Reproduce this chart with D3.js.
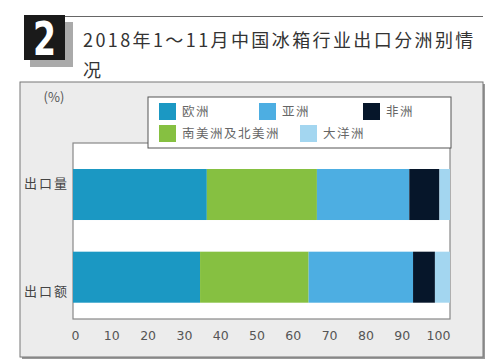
<!DOCTYPE html>
<html>
<head>
<meta charset="utf-8">
<script src="https://cdn.jsdelivr.net/npm/d3@7"></script>
<style>
	body { margin: 0; background: #fff; }
	svg { display: block; font-family: "Noto Sans CJK SC", "Noto Sans", sans-serif; }
</style>
</head>
<body>
<svg id="chart" width="500" height="362"></svg>
<script>
// data (share in %)
const categories = ["出口量", "出口额"];
const regions = ["欧洲", "南美洲及北美洲", "亚洲", "非洲", "大洋洲"];
const europe   = [35.5, 33.7];
const americas = [29.2, 28.8];
const asia     = [24.5, 27.7];
const africa   = [8.0, 5.8];
const oceania  = [2.8, 4.0];
const tickValues = [0, 10, 20, 30, 40, 50, 60, 70, 80, 90, 100];
const legendOrder = ["欧洲", "亚洲", "非洲", "南美洲及北美洲", "大洋洲"];

const colors = {
	"欧洲": "#1b98c3",
	"南美洲及北美洲": "#86c041",
	"亚洲": "#4daee2",
	"非洲": "#06162a",
	"大洋洲": "#a3d6f0"
};

let svg = d3.select("#chart");

// table for the stack
let series = [europe, americas, asia, africa, oceania];
let table = categories.map(function(c, i){
	let row = {cat: c};
	regions.forEach(function(r, j){ row[r] = series[j][i]; });
	return row;
});
let stacked = d3.stack().keys(regions)(table);

// title block
svg.append("line").attr("x1", 64).attr("x2", 483).attr("y1", 16.5).attr("y2", 16.5)
	.attr("stroke", "#666").attr("stroke-width", 1.2);
svg.append("rect").attr("x", 30).attr("y", 22).attr("width", 43).attr("height", 45).attr("fill", "#aaa");
svg.append("rect").attr("x", 24).attr("y", 15).attr("width", 41).attr("height", 45).attr("fill", "#1a1a1a");
svg.append("text").attr("x", 44.5).attr("y", 55).attr("text-anchor", "middle")
	.attr("fill", "#fff").attr("font-family", "DejaVu Sans Condensed, DejaVu Sans")
	.attr("font-weight", "bold").attr("font-size", 46)
	.attr("transform", "translate(44.5,55) scale(0.8,1) translate(-44.5,-55)")
	.text("2");
let title = svg.append("text").attr("fill", "#333").attr("font-size", 18)
	.attr("font-weight", 400).attr("letter-spacing", 2.4);
title.append("tspan").attr("x", 83).attr("y", 47).text("2018年1～11月中国冰箱行业出口分洲别情");
title.append("tspan").attr("x", 83).attr("y", 77).text("况");

// panel
svg.append("rect").attr("x", 22).attr("y", 84).attr("width", 463).attr("height", 275).attr("fill", "#999");
svg.append("rect").attr("x", 20).attr("y", 82).attr("width", 463).attr("height", 275)
	.attr("fill", "#ececec").attr("stroke", "#777").attr("stroke-width", 1);

svg.append("text").attr("x", 54).attr("y", 102).attr("text-anchor", "middle")
	.attr("fill", "#555").attr("font-size", 13).text("(%)");

// scales
let plot = {left: 73, right: 450, top: 143, bottom: 319};
let x = d3.scaleLinear().domain([0, 100]).range([plot.left, plot.right]);
let xTicks = d3.scaleLinear().domain([0, 100]).range([75, 438]);
let y = d3.scaleBand().domain(categories).range([169, 302.7]).paddingInner(0.383).paddingOuter(0);
let yLabel = d3.scalePoint().domain(categories).range([183, 291]);

svg.append("rect").attr("x", plot.left).attr("y", plot.top)
	.attr("width", plot.right - plot.left).attr("height", plot.bottom - plot.top)
	.attr("fill", "#fff").attr("stroke", "#888").attr("stroke-width", 1.2);

// bars
svg.append("g").selectAll("g")
	.data(stacked)
	.enter().append("g")
	.attr("fill", function(d){ return colors[d.key]; })
	.selectAll("rect")
	.data(function(d){ return d; })
	.enter().append("rect")
	.attr("x", function(d){ return x(d[0]); })
	.attr("width", function(d){ return x(d[1]) - x(d[0]); })
	.attr("y", function(d){ return y(d.data.cat); })
	.attr("height", y.bandwidth());

// category labels
svg.append("g").selectAll("text")
	.data(categories)
	.enter().append("text")
	.attr("x", 69).attr("y", function(d){ return yLabel(d); })
	.attr("dy", "0.35em").attr("text-anchor", "end")
	.attr("fill", "#444").attr("font-size", 13).attr("letter-spacing", 2)
	.text(function(d){ return d; });

// x axis labels
let xAxis = d3.axisBottom(xTicks).tickValues(tickValues).tickSize(0).tickPadding(0);
let axisG = svg.append("g").attr("transform", "translate(0,331)").call(xAxis);
axisG.select(".domain").remove();
axisG.selectAll("text").attr("fill", "#555").attr("font-size", 12.5)
	.attr("font-family", "DejaVu Sans").attr("dy", "0.71em");

// legend
let legendBox = {x: 148, y: 97, w: 303, h: 51};
svg.append("rect").attr("x", legendBox.x).attr("y", legendBox.y)
	.attr("width", legendBox.w).attr("height", legendBox.h)
	.attr("fill", "#fff").attr("stroke", "#555").attr("stroke-width", 1);
let legendPos = [[159, 103], [259, 103], [363, 103], [159, 125], [300, 125]];
let items = svg.append("g").selectAll("g")
	.data(legendOrder)
	.enter().append("g")
	.attr("transform", function(d, i){ return "translate(" + legendPos[i][0] + "," + legendPos[i][1] + ")"; });
items.append("rect").attr("width", 17).attr("height", 17)
	.attr("fill", function(d){ return colors[d]; });
items.append("text").attr("x", 23).attr("y", 8.5).attr("dy", "0.35em")
	.attr("fill", "#666").attr("font-size", 12.5).attr("letter-spacing", 1.5)
	.text(function(d){ return d; });
</script>
</body>
</html>
